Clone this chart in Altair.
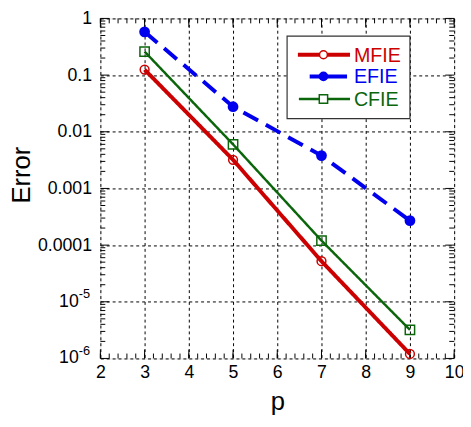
import altair as alt
import pandas as pd
import numpy as np

# ---- data ----
P = [3, 5, 7, 9]
MFIE = [0.125, 0.0032, 5.2e-5, 1.2e-6]
EFIE = [0.58, 0.0277, 0.0038, 2.7e-4]
CFIE = [0.26, 0.006, 1.2e-4, 3.2e-6]

SERIES = ["MFIE", "EFIE", "CFIE"]
COLORS = ["#cc0000", "#0000ee", "#0b650b"]
LEGEND_TEXT_COLORS = ["#cc0000", "#0000ee", "#0b650b"]

X_TICKS = [2, 3, 4, 5, 6, 7, 8, 9, 10]
Y_TICKS = [1, 0.1, 0.01, 0.001, 0.0001, 1e-5, 1e-6]
Y_LABELS = ["1", "0.1", "0.01", "0.001", "0.0001", "10^-5", "10^-6"]

X_MINOR = [round(2 + 0.2 * i, 2) for i in range(41)]
Y_MINOR = [m * 10.0 ** e for e in range(-6, 0) for m in range(2, 10)]

W, H = 360, 346
FONT = "Liberation Sans"

df = pd.DataFrame({
    "p": P * 3,
    "err": MFIE + EFIE + CFIE,
    "series": [s for s in SERIES for _ in P],
})

xs = alt.Scale(domain=[2, 10], nice=False, zero=False)
ys = alt.Scale(type="log", domain=[1e-6, 1], nice=False)

plain = [(v, lab) for v, lab in zip(Y_TICKS, Y_LABELS) if "^" not in lab]
powers = [(v, lab.split("^")[0], lab.split("^")[1]) for v, lab in zip(Y_TICKS, Y_LABELS) if "^" in lab]

label_expr = "".join(
    f"abs(log(datum.value)/LN10 - ({np.log10(v):.0f})) < 0.01 ? '{lab}' : "
    for v, lab in plain
) + "''"

X_AXIS = alt.Axis(values=X_TICKS, title="p", grid=True, ticks=False, domain=False,
                  labelPadding=5, labelFontSize=18, labelFont=FONT, labelColor="black",
                  labelFlush=False, labelOverlap=False, labelBound=False,
                  titleFontSize=26, titleFont=FONT, titleFontWeight="normal", titleColor="black",
                  titleY=52, titleBaseline="alphabetic",
                  gridDash=[3, 3], gridColor="black", gridWidth=1, gridOpacity=1)
Y_AXIS = alt.Axis(values=Y_TICKS, title="Error", grid=True, ticks=False, domain=False,
                  labelExpr=label_expr, labelPadding=9, labelFontSize=18, labelFont=FONT,
                  labelColor="black", labelFlush=False, labelOverlap=False,
                  titleFontSize=26, titleFont=FONT, titleFontWeight="normal", titleColor="black",
                  titleX=-80, titleY=159, titleAngle=270, titleAlign="center",
                  titleBaseline="middle",
                  gridDash=[3, 3], gridColor="black", gridWidth=1, gridOpacity=1)

layers = []

# inward ticks
xmin = pd.DataFrame({"p": X_MINOR})
xmaj = pd.DataFrame({"p": X_TICKS})
ymin = pd.DataFrame({"err": Y_MINOR})
ymaj = pd.DataFrame({"err": Y_TICKS})
for d, L in [(xmin, 5), (xmaj, 9)]:
    for y0, y1 in [(H, H - L), (0, L)]:
        layers.append(alt.Chart(d).mark_rule(color="black", strokeWidth=1).encode(
            x=alt.X("p:Q", scale=xs, axis=X_AXIS),
            y=alt.value(y0), y2=alt.value(y1)))
for d, L in [(ymin, 5), (ymaj, 9)]:
    for x0, x1 in [(0, L), (W, W - L)]:
        layers.append(alt.Chart(d).mark_rule(color="black", strokeWidth=1).encode(
            y=alt.Y("err:Q", scale=ys, axis=Y_AXIS),
            x=alt.value(x0), x2=alt.value(x1)))

# power-of-ten tick labels with real superscripts
pw = pd.DataFrame({"err": [v for v, _, _ in powers],
                   "base": [b for _, b, _ in powers],
                   "exp": [e for _, _, e in powers]})
layers.append(alt.Chart(pw).mark_text(fontSize=18, font=FONT, color="black", align="right",
                                      baseline="middle").encode(
    y=alt.Y("err:Q", scale=ys, axis=Y_AXIS), x=alt.value(-22), text="base:N"))
layers.append(alt.Chart(pw).mark_text(fontSize=13, font=FONT, color="black", align="left",
                                      baseline="middle", dy=-8).encode(
    y=alt.Y("err:Q", scale=ys, axis=Y_AXIS), x=alt.value(-22), text="exp:N"))

# series
styles = {
    "MFIE": dict(width=4, dash=[1, 0], shape="circle", filled=False, size=80),
    "EFIE": dict(width=4, dash=[17, 9], shape="circle", filled=True, size=120),
    "CFIE": dict(width=2.5, dash=[1, 0], shape="square", filled=False, size=90),
}
for s, c in zip(SERIES, COLORS):
    st = styles[s]
    base = alt.Chart(df).transform_filter(alt.datum.series == s)
    layers.append(base.mark_line(color=c, strokeWidth=st["width"], strokeDash=st["dash"],
                                 clip=True).encode(
        x=alt.X("p:Q", scale=xs, axis=X_AXIS),
        y=alt.Y("err:Q", scale=ys, axis=Y_AXIS)))
    layers.append(base.mark_point(color=c, shape=st["shape"], filled=st["filled"],
                                  size=st["size"], strokeWidth=1.5, opacity=1).encode(
        x=alt.X("p:Q", scale=xs, axis=X_AXIS),
        y=alt.Y("err:Q", scale=ys, axis=Y_AXIS)))

# legend
box = pd.DataFrame({"k": [0]})
layers.append(alt.Chart(box).mark_rect(fill="white", stroke="#333333", strokeWidth=1.2).encode(
    x=alt.value(190), x2=alt.value(315), y=alt.value(18), y2=alt.value(102)))
leg_y = [37, 59, 82]
leg_x = [(201, 254), (213, 251), (202, 254)]
for s, c, tc, yy, (xa, xb) in zip(SERIES, COLORS, LEGEND_TEXT_COLORS, leg_y, leg_x):
    st = styles[s]
    d = pd.DataFrame({"series": [s]})
    layers.append(alt.Chart(d).mark_rule(color=c, strokeWidth=st["width"]).encode(
        x=alt.value(xa), x2=alt.value(xb), y=alt.value(yy)))
    layers.append(alt.Chart(d).mark_point(color=c, shape=st["shape"], filled=st["filled"],
                                          size=st["size"] * 0.8, strokeWidth=1.5, opacity=1,
                                          fill=c if st["filled"] else "white").encode(
        x=alt.value(227), y=alt.value(yy)))
    layers.append(alt.Chart(d).mark_text(color=tc, fontSize=20, font=FONT, align="left",
                                         baseline="middle").encode(
        x=alt.value(258), y=alt.value(yy + 1), text="series:N"))

chart = alt.layer(*layers).properties(
    width=W, height=H,
    autosize=alt.AutoSizeParams(type="none"),
    padding={"left": 94, "top": 7, "right": 9, "bottom": 58},
).configure_view(stroke="black", strokeWidth=1.5).configure(background="white")

chart.save("out.html", embed_options={"renderer": "svg", "actions": False})
